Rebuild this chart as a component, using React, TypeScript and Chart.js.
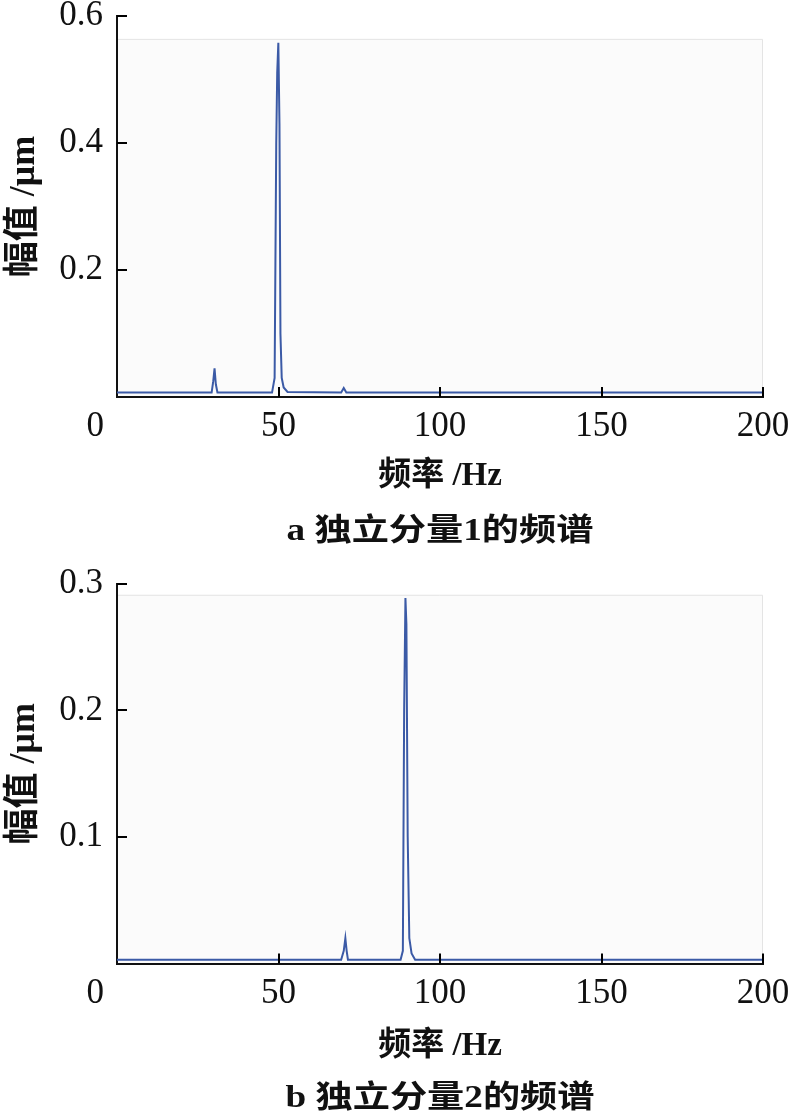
import React, { useEffect, useRef } from 'react';
import { Chart, registerables } from 'chart.js';

Chart.register(...registerables);

// ---------- data ----------
const xTickValues = [0, 50, 100, 150, 200];

// Panel a: 独立分量1 spectrum (frequency Hz / amplitude µm)
const freqA = [0, 29.3, 29.8, 30.2, 30.6, 31.1, 48.0, 48.8, 49.3, 49.6, 49.95, 50.3, 50.6, 51.0, 51.6, 52.8, 69.4, 70.2, 71.0, 200];
const ampA = [0.007, 0.007, 0.025, 0.045, 0.02, 0.007, 0.007, 0.03, 0.4, 0.51, 0.558, 0.43, 0.1, 0.03, 0.015, 0.008, 0.007, 0.014, 0.007, 0.007];
const yTicksA = [0.2, 0.4, 0.6];
const panelTopA = 0.564;

// Panel b: 独立分量2 spectrum
const freqB = [0, 69.4, 70.2, 70.7, 71.1, 71.5, 87.8, 88.5, 88.9, 89.3, 89.6, 90.0, 90.5, 91.2, 92.3, 200];
const ampB = [0.003, 0.003, 0.01, 0.02, 0.01, 0.003, 0.003, 0.01, 0.2, 0.289, 0.268, 0.1, 0.02, 0.008, 0.003, 0.003];
const yTicksB = [0.1, 0.2, 0.3];
const panelTopB = 0.2915;

const xTitle = '频率 /Hz';
const yTitle = '幅值 /μm';
const captionA = 'a 独立分量1的频谱';
const captionB = 'b 独立分量2的频谱';

// ---------- styles ----------
const W = 792;
const AXIS_LEFT = 117;
const AXIS_RIGHT = 763;
const LINE_COLOR = '#3b5aa6';
const NUM_FONT = "'Liberation Serif', 'Times New Roman', serif";
const CJK_FONT = "'Liberation Serif', 'Noto Sans CJK SC', serif";
const TITLE_SIZE = 33;
const Y_TITLE_SIZE = 36;

type PanelProps = {
  freq: number[];
  amp: number[];
  yTicks: number[];
  panelTop: number;
  canvasH: number;
  plotTop: number;
  plotBottom: number;
  xTitleY: number;
  caption: string;
  captionY: number;
};

function Panel(p: PanelProps) {
  const ref = useRef<HTMLCanvasElement | null>(null);

  useEffect(() => {
    if (!ref.current) return;
    const yMax = p.yTicks[p.yTicks.length - 1];
    const yStep = p.yTicks[1] - p.yTicks[0];
    const titleLH = TITLE_SIZE * 1.2;

    const shade = {
      id: 'shade',
      beforeDraw(chart: any) {
        const { ctx, chartArea } = chart;
        const ys = chart.scales.y;
        const top = ys.getPixelForValue(p.panelTop);
        ctx.save();
        ctx.fillStyle = '#fbfbfb';
        ctx.fillRect(chartArea.left, top, chartArea.right - chartArea.left, chartArea.bottom - top);
        ctx.strokeStyle = '#e4e4e4';
        ctx.lineWidth = 1;
        ctx.beginPath();
        ctx.moveTo(chartArea.left, top + 0.5);
        ctx.lineTo(chartArea.right - 0.5, top + 0.5);
        ctx.lineTo(chartArea.right - 0.5, chartArea.bottom);
        ctx.stroke();
        ctx.restore();
      },
    };

    const innerTicks = {
      id: 'innerTicks',
      afterDraw(chart: any) {
        const { ctx, chartArea } = chart;
        const xs = chart.scales.x;
        const ys = chart.scales.y;
        ctx.save();
        ctx.strokeStyle = '#000';
        ctx.lineWidth = 2;
        ctx.beginPath();
        xTickValues.forEach((v) => {
          if (v === 0) return;
          const px = Math.round(xs.getPixelForValue(v));
          ctx.moveTo(px, chartArea.bottom);
          ctx.lineTo(px, chartArea.bottom - 10);
        });
        p.yTicks.forEach((v) => {
          const py = Math.round(ys.getPixelForValue(v));
          ctx.moveTo(chartArea.left, py);
          ctx.lineTo(chartArea.left + 10, py);
        });
        ctx.stroke();
        ctx.restore();
      },
    };

    const chart = new Chart(ref.current, {
      type: 'line',
      data: {
        datasets: [
          {
            data: p.freq.map((f, i) => ({ x: f, y: p.amp[i] })),
            borderColor: LINE_COLOR,
            borderWidth: 2,
            pointRadius: 0,
            tension: 0,
            fill: false,
          },
        ],
      },
      options: {
        animation: false,
        responsive: false,
        devicePixelRatio: 1,
        layout: { padding: { top: p.plotTop, right: W - AXIS_RIGHT, left: 0, bottom: 0 } },
        plugins: { legend: { display: false }, tooltip: { enabled: false } },
        scales: {
          x: {
            type: 'linear',
            min: 0,
            max: 200,
            afterBuildTicks: (scale: any) => {
              scale.ticks = xTickValues.map((v) => ({ value: v }));
            },
            ticks: {
              autoSkip: false,
              maxRotation: 0,
              padding: 9,
              color: '#111',
              font: { family: NUM_FONT, size: 35 },
              callback: (v: any) => (Number(v) === 0 ? '0' + '\u00a0'.repeat(5) : String(v)),
            },
            grid: { display: false, drawTicks: false },
            border: { display: true, color: '#111', width: 2 },
            title: {
              display: true,
              text: xTitle,
              color: '#111',
              font: { family: CJK_FONT, size: TITLE_SIZE, weight: 'bold' },
              padding: { top: 0, bottom: p.canvasH - p.xTitleY - titleLH / 2 },
            },
            afterFit: (scale: any) => {
              scale.height = p.canvasH - p.plotBottom;
              scale.paddingLeft = 0;
              scale.paddingRight = 0;
            },
          },
          y: {
            type: 'linear',
            min: 0,
            max: yMax,
            afterBuildTicks: (scale: any) => {
              scale.ticks = [0, ...p.yTicks].map((v) => ({ value: v }));
            },
            ticks: {
              stepSize: yStep,
              padding: 14,
              color: '#111',
              font: { family: NUM_FONT, size: 35 },
              callback: (v: any) => (Number(v) === 0 ? '' : Number(v).toFixed(1)),
            },
            grid: { display: false, drawTicks: false },
            border: { display: true, color: '#111', width: 2 },
            title: {
              display: true,
              text: yTitle,
              color: '#111',
              font: { family: CJK_FONT, size: Y_TITLE_SIZE, weight: 'bold' },
              padding: { top: 3, bottom: 0 },
            },
            afterFit: (scale: any) => {
              scale.width = AXIS_LEFT;
              scale.paddingTop = 0;
              scale.paddingBottom = 0;
            },
          },
        },
      },
      plugins: [shade, innerTicks],
    } as any);

    return () => chart.destroy();
  }, []);

  return (
    <div style={{ position: 'relative', width: W, height: p.canvasH }}>
      <canvas ref={ref} width={W} height={p.canvasH} style={{ display: 'block', width: W, height: p.canvasH }} />
      <div
        style={{
          position: 'absolute',
          left: AXIS_LEFT,
          width: AXIS_RIGHT - AXIS_LEFT,
          top: p.captionY - 20,
          height: 40,
          lineHeight: '40px',
          textAlign: 'center',
          fontFamily: CJK_FONT,
          fontWeight: 'bold',
          fontSize: 31,
          color: '#111',
          whiteSpace: 'pre',
          transform: 'scaleX(1.2)',
        }}
      >
        {p.caption}
      </div>
    </div>
  );
}

export default function App() {
  return (
    <div style={{ position: 'absolute', left: 0, top: 0, width: W, height: 1113, background: '#fff' }}>
      <Panel
        freq={freqA}
        amp={ampA}
        yTicks={yTicksA}
        panelTop={panelTopA}
        canvasH={560}
        plotTop={16}
        plotBottom={397}
        xTitleY={476}
        caption={captionA}
        captionY={530}
      />
      <Panel
        freq={freqB}
        amp={ampB}
        yTicks={yTicksB}
        panelTop={panelTopB}
        canvasH={553}
        plotTop={24}
        plotBottom={403.5}
        xTitleY={486}
        caption={captionB}
        captionY={537}
      />
    </div>
  );
}
